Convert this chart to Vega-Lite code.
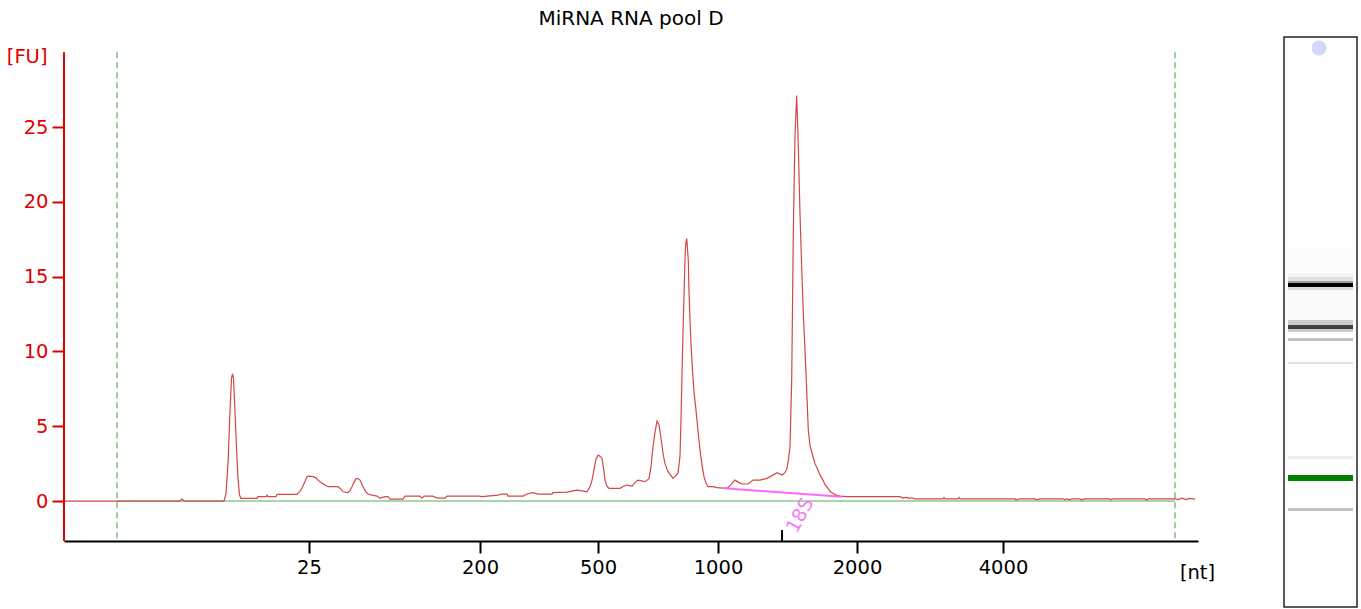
{
  "$schema": "https://vega.github.io/schema/vega-lite/v6.json",
  "padding": {"left": 6, "top": 9, "right": 0, "bottom": 0},
  "autosize": {"type": "pad"},
  "bounds": "flush",
  "spacing": 86,
  "config": {"view": {"stroke": null}, "font": "DejaVu Sans"},
  "datasets": {
    "trace": [
      {"pos":64,"fu":0},{"pos":180,"fu":0},{"pos":182,"fu":0.15},{"pos":184,"fu":0},{"pos":224,"fu":0},{"pos":226,"fu":0.5},{"pos":228,"fu":2.5},{"pos":230,"fu":6},{"pos":231.5,"fu":8.2},{"pos":232.5,"fu":8.5},{"pos":233.5,"fu":8.2},{"pos":235,"fu":6},{"pos":236.5,"fu":3.5},{"pos":238,"fu":1.5},{"pos":239.5,"fu":0.4},{"pos":241,"fu":0.18},{"pos":257,"fu":0.18},{"pos":258,"fu":0.29},{"pos":266,"fu":0.29},{"pos":267,"fu":0.4},{"pos":268,"fu":0.3},{"pos":276,"fu":0.3},{"pos":277,"fu":0.45},{"pos":297,"fu":0.45},{"pos":300,"fu":0.65},{"pos":302,"fu":0.87},{"pos":305,"fu":1.3},{"pos":307,"fu":1.63},{"pos":309,"fu":1.66},{"pos":313,"fu":1.63},{"pos":316,"fu":1.55},{"pos":318,"fu":1.4},{"pos":320,"fu":1.29},{"pos":325,"fu":1.07},{"pos":328,"fu":0.96},{"pos":338,"fu":0.96},{"pos":341,"fu":0.8},{"pos":343,"fu":0.62},{"pos":348,"fu":0.57},{"pos":350,"fu":0.7},{"pos":352,"fu":0.96},{"pos":354,"fu":1.25},{"pos":356,"fu":1.5},{"pos":358,"fu":1.5},{"pos":360,"fu":1.4},{"pos":362,"fu":1.1},{"pos":363,"fu":0.96},{"pos":366,"fu":0.6},{"pos":368,"fu":0.47},{"pos":372,"fu":0.4},{"pos":377,"fu":0.33},{"pos":380,"fu":0.18},{"pos":385,"fu":0.29},{"pos":388,"fu":0.29},{"pos":390,"fu":0.13},{"pos":403,"fu":0.13},{"pos":405,"fu":0.33},{"pos":420,"fu":0.33},{"pos":422,"fu":0.2},{"pos":424,"fu":0.33},{"pos":433,"fu":0.33},{"pos":437,"fu":0.2},{"pos":445,"fu":0.2},{"pos":447,"fu":0.33},{"pos":480,"fu":0.33},{"pos":482,"fu":0.29},{"pos":498,"fu":0.4},{"pos":502,"fu":0.47},{"pos":507,"fu":0.47},{"pos":508,"fu":0.33},{"pos":523,"fu":0.33},{"pos":527,"fu":0.47},{"pos":533,"fu":0.56},{"pos":538,"fu":0.47},{"pos":552,"fu":0.47},{"pos":553,"fu":0.56},{"pos":567,"fu":0.6},{"pos":577,"fu":0.73},{"pos":582,"fu":0.68},{"pos":587,"fu":0.62},{"pos":590,"fu":0.96},{"pos":592,"fu":1.4},{"pos":594,"fu":2.1},{"pos":596,"fu":2.8},{"pos":598,"fu":3.07},{"pos":600,"fu":3.0},{"pos":602,"fu":2.85},{"pos":604,"fu":2.0},{"pos":605,"fu":1.4},{"pos":607,"fu":1.0},{"pos":609,"fu":0.85},{"pos":620,"fu":0.85},{"pos":624,"fu":1.0},{"pos":627,"fu":1.07},{"pos":632,"fu":1.0},{"pos":636,"fu":1.3},{"pos":638,"fu":1.4},{"pos":645,"fu":1.3},{"pos":649,"fu":1.5},{"pos":651,"fu":2.3},{"pos":653,"fu":3.63},{"pos":655,"fu":4.6},{"pos":657,"fu":5.35},{"pos":659,"fu":5.1},{"pos":661,"fu":4.2},{"pos":663,"fu":3.19},{"pos":665,"fu":2.5},{"pos":668,"fu":1.96},{"pos":673,"fu":1.52},{"pos":678,"fu":1.85},{"pos":680,"fu":3.0},{"pos":681,"fu":5.4},{"pos":682,"fu":8.5},{"pos":683.3,"fu":12.1},{"pos":684.3,"fu":14.5},{"pos":685.3,"fu":16.8},{"pos":686,"fu":17.3},{"pos":686.7,"fu":17.56},{"pos":688.3,"fu":16.1},{"pos":689,"fu":14},{"pos":690,"fu":12.1},{"pos":691,"fu":10.5},{"pos":692.7,"fu":8.5},{"pos":694,"fu":7.3},{"pos":696,"fu":6.08},{"pos":698,"fu":4.7},{"pos":700,"fu":3.41},{"pos":702,"fu":2.4},{"pos":704,"fu":1.63},{"pos":706,"fu":1.2},{"pos":708,"fu":0.96},{"pos":713,"fu":0.96},{"pos":717,"fu":0.9},{"pos":727,"fu":0.85},{"pos":731,"fu":1.1},{"pos":735,"fu":1.4},{"pos":740,"fu":1.2},{"pos":742,"fu":1.14},{"pos":748,"fu":1.14},{"pos":753,"fu":1.4},{"pos":760,"fu":1.4},{"pos":767,"fu":1.52},{"pos":772,"fu":1.7},{"pos":777,"fu":1.9},{"pos":782,"fu":1.74},{"pos":785,"fu":1.9},{"pos":787,"fu":2.18},{"pos":788.5,"fu":2.8},{"pos":790,"fu":3.63},{"pos":791.7,"fu":8.1},{"pos":793.3,"fu":17.9},{"pos":795,"fu":24.5},{"pos":796.7,"fu":27.1},{"pos":798,"fu":24.5},{"pos":800,"fu":19.2},{"pos":801.7,"fu":15.6},{"pos":803.3,"fu":12.6},{"pos":806,"fu":8.55},{"pos":808.3,"fu":4.75},{"pos":810,"fu":3.7},{"pos":813,"fu":2.96},{"pos":815,"fu":2.5},{"pos":818,"fu":2.07},{"pos":820,"fu":1.75},{"pos":823,"fu":1.4},{"pos":825,"fu":1.1},{"pos":828,"fu":0.85},{"pos":830,"fu":0.65},{"pos":833,"fu":0.51},{"pos":836,"fu":0.4},{"pos":840,"fu":0.33},{"pos":847,"fu":0.29},{"pos":900,"fu":0.29},{"pos":903,"fu":0.2},{"pos":906,"fu":0.25},{"pos":909,"fu":0.18},{"pos":912,"fu":0.22},{"pos":915,"fu":0.15},{"pos":943,"fu":0.15},{"pos":944,"fu":0.24},{"pos":945,"fu":0.15},{"pos":958,"fu":0.15},{"pos":959,"fu":0.24},{"pos":960,"fu":0.15},{"pos":1015,"fu":0.15},{"pos":1016,"fu":0.08},{"pos":1019,"fu":0.15},{"pos":1035,"fu":0.15},{"pos":1036,"fu":0.08},{"pos":1040,"fu":0.15},{"pos":1063,"fu":0.15},{"pos":1065,"fu":0.08},{"pos":1067,"fu":0.15},{"pos":1070,"fu":0.08},{"pos":1072,"fu":0.15},{"pos":1080,"fu":0.15},{"pos":1081,"fu":0.08},{"pos":1085,"fu":0.15},{"pos":1110,"fu":0.15},{"pos":1111,"fu":0.08},{"pos":1113,"fu":0.15},{"pos":1145,"fu":0.15},{"pos":1146,"fu":0.08},{"pos":1149,"fu":0.15},{"pos":1175,"fu":0.15},{"pos":1178,"fu":0.1},{"pos":1182,"fu":0.2},{"pos":1186,"fu":0.1},{"pos":1190,"fu":0.18},{"pos":1195,"fu":0.13}
    ],
    "markers": [{"pos": 117, "top": 30, "bottom": -2.67}, {"pos": 1175, "top": 30, "bottom": -2.67}],
    "peakbase": [{"pos": 724, "fu": 0.86}, {"pos": 842, "fu": 0.28}],
    "peaklabel": [{"pos": 800, "fu": -0.95, "label": "18S", "tickpos": 782, "ticktop": -1.94}],
    "gel": [
      {"y0": 215, "y1": 236, "shade": 0.012},
      {"y0": 236, "y1": 240, "shade": 0.03},
      {"y0": 240, "y1": 244, "shade": 0.1},
      {"y0": 244, "y1": 246, "shade": 0.35},
      {"y0": 246, "y1": 250, "shade": 1.0},
      {"y0": 250, "y1": 253, "shade": 0.12},
      {"y0": 253, "y1": 283, "shade": 0.02},
      {"y0": 283, "y1": 288, "shade": 0.18},
      {"y0": 288, "y1": 292, "shade": 0.72},
      {"y0": 292, "y1": 295, "shade": 0.18},
      {"y0": 301, "y1": 304, "shade": 0.22},
      {"y0": 325, "y1": 327, "shade": 0.1},
      {"y0": 419, "y1": 422, "shade": 0.06},
      {"y0": 471, "y1": 474, "shade": 0.22}
    ],
    "marker_band": [{"y0": 438, "y1": 444}],
    "spot": [{"x": 35, "y": 11}]
  },
  "hconcat": [
    {
      "width": 1134,
      "height": 504,
      "title": {"text": "MiRNA RNA pool D", "fontSize": 20, "fontWeight": "normal", "font": "DejaVu Sans", "color": "#000000", "anchor": "middle", "baseline": "alphabetic", "offset": -8},
      "layer": [
        {
          "data": {"name": "markers"},
          "mark": {"type": "rule", "color": "#3c9a3c", "strokeWidth": 1, "strokeDash": [6, 4]},
          "encoding": {
            "x": {"field": "pos", "type": "quantitative", "scale": {"domain": [64, 1198], "nice": false, "zero": false},
              "axis": {"values": [309, 480, 598, 718, 857, 1003], "labelExpr": "datum.value == 309 ? '25' : datum.value == 480 ? '200' : datum.value == 598 ? '500' : datum.value == 718 ? '1000' : datum.value == 857 ? '2000' : '4000'", "grid": false, "domainColor": "#000000", "domainWidth": 2, "tickColor": "#000000", "tickWidth": 2, "tickSize": 12, "labelFontSize": 19.5, "labelColor": "#000000", "labelPadding": 5, "labelFont": "DejaVu Sans", "title": "[nt]", "titleFont": "DejaVu Sans", "titleFontSize": 19.5, "titleFontWeight": "normal", "titleColor": "#000000", "titleX": 1133, "titleY": 31, "titleBaseline": "middle", "titleAlign": "center"}},
            "y": {"field": "top", "type": "quantitative", "scale": {"domain": [-2.67, 31.02], "nice": false, "zero": false},
              "axis": {"values": [0, 5, 10, 15, 20, 25], "grid": false, "domain": false, "tickColor": "#e00000", "tickWidth": 2, "tickSize": 12, "labelColor": "#e00000", "labelFontSize": 19.5, "labelFont": "DejaVu Sans", "labelPadding": 4, "title": "[FU]", "titleAngle": 0, "titleColor": "#e00000", "titleFont": "DejaVu Sans", "titleFontSize": 19.5, "titleFontWeight": "normal", "titleX": -17, "titleY": 19, "titleAlign": "right", "titleBaseline": "middle"}},
            "y2": {"field": "bottom"}
          }
        },
        {
          "data": {"name": "markers"},
          "mark": {"type": "rule", "color": "#8cc88c", "strokeWidth": 1.5},
          "encoding": {
            "x": {"aggregate": "min", "field": "pos", "type": "quantitative"},
            "x2": {"aggregate": "max", "field": "pos"},
            "y": {"datum": 0, "type": "quantitative"}
          }
        },
        {
          "data": {"name": "trace"},
          "mark": {"type": "line", "color": "#d04848", "strokeWidth": 1.2, "interpolate": "linear"},
          "encoding": {
            "x": {"field": "pos", "type": "quantitative"},
            "y": {"field": "fu", "type": "quantitative"}
          }
        },
        {
          "data": {"name": "peakbase"},
          "mark": {"type": "line", "color": "#ff66ff", "strokeWidth": 2},
          "encoding": {
            "x": {"field": "pos", "type": "quantitative"},
            "y": {"field": "fu", "type": "quantitative"}
          }
        },
        {
          "data": {"name": "peaklabel"},
          "mark": {"type": "text", "color": "#f47cf4", "fontSize": 19, "angle": -62, "align": "center", "baseline": "middle", "font": "DejaVu Sans"},
          "encoding": {
            "x": {"field": "pos", "type": "quantitative"},
            "y": {"field": "fu", "type": "quantitative"},
            "text": {"field": "label"}
          }
        },
        {
          "data": {"name": "peaklabel"},
          "mark": {"type": "rule", "color": "#000000", "strokeWidth": 2},
          "encoding": {
            "x": {"field": "tickpos", "type": "quantitative"},
            "y": {"field": "ticktop", "type": "quantitative"},
            "y2": {"datum": -2.67}
          }
        },
        {
          "data": {"name": "markers"},
          "mark": {"type": "rule", "color": "#e00000", "strokeWidth": 2},
          "encoding": {
            "x": {"datum": 64, "type": "quantitative"},
            "y": {"aggregate": "max", "field": "top", "type": "quantitative"},
            "y2": {"aggregate": "min", "field": "bottom"}
          }
        }
      ]
    },
    {
      "width": 73,
      "height": 570,
      "view": {"stroke": "#222222", "strokeWidth": 1.5, "fill": "#fdfdfd"},
      "layer": [
        {
          "data": {"name": "gel"},
          "mark": {"type": "rect"},
          "encoding": {
            "x": {"datum": 4, "type": "quantitative", "scale": {"domain": [0, 73], "nice": false, "zero": false}, "axis": null},
            "x2": {"datum": 69},
            "y": {"field": "y0", "type": "quantitative", "scale": {"domain": [0, 570], "nice": false, "zero": false, "reverse": true}, "axis": null},
            "y2": {"field": "y1"},
            "color": {"field": "shade", "type": "quantitative", "scale": {"domain": [0, 1], "range": ["#ffffff", "#000000"]}, "legend": null}
          }
        },
        {
          "data": {"name": "marker_band"},
          "mark": {"type": "rect", "color": "#008000"},
          "encoding": {
            "x": {"datum": 4, "type": "quantitative"},
            "x2": {"datum": 69},
            "y": {"field": "y0", "type": "quantitative"},
            "y2": {"field": "y1"}
          }
        },
        {
          "data": {"name": "spot"},
          "mark": {"type": "point", "filled": true, "shape": "circle", "color": "#d4d4fc", "size": 220, "opacity": 1},
          "encoding": {
            "x": {"field": "x", "type": "quantitative"},
            "y": {"field": "y", "type": "quantitative"}
          }
        }
      ]
    }
  ]
}
